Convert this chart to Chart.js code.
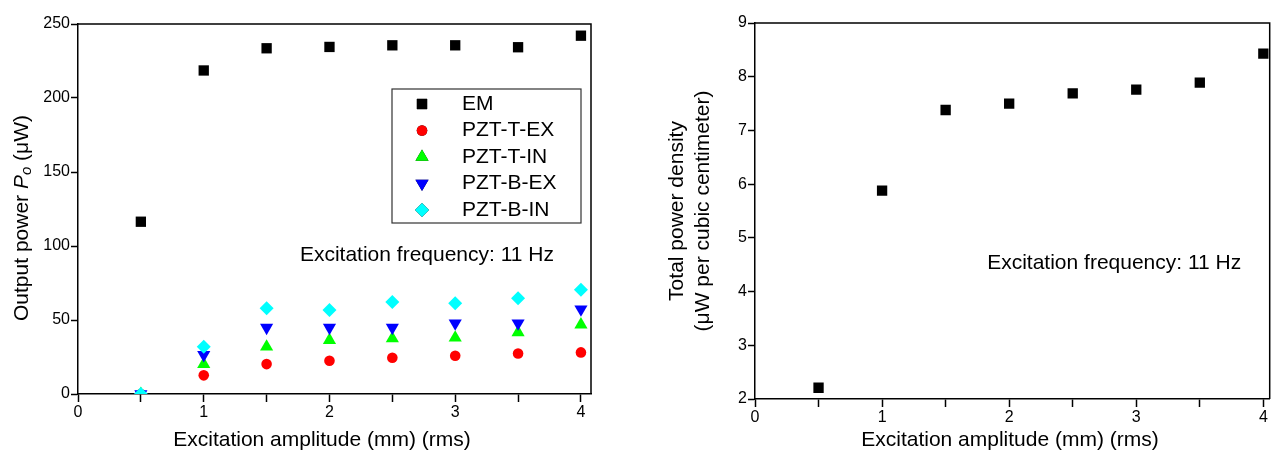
<!DOCTYPE html>
<html>
<head>
<meta charset="utf-8">
<script src="https://cdn.jsdelivr.net/npm/chart.js@4/dist/chart.umd.min.js"></script>
<style>
  body { margin: 0; background: #fff; }
  .box { position: absolute; top: 0; }
</style>
</head>
<body>
<div class="box" style="left:0"><canvas id="left" width="640" height="453"></canvas></div>
<div class="box" style="left:640px"><canvas id="right" width="637" height="453"></canvas></div>
<script>
// valores
const amplitudes = [0.5, 1, 1.5, 2, 2.5, 3, 3.5, 4];
const emPower    = [116.4, 218.6, 233.6, 234.5, 235.6, 235.6, 234.3, 242.1];
const pztTEx     = [0, 12.6, 20.2, 22.5, 24.5, 25.8, 27.4, 28.1];
const pztTIn     = [0, 20.2, 31.9, 36.4, 37.5, 38.0, 41.6, 46.9];
const pztBEx     = [0, 26.5, 44.9, 44.9, 44.9, 47.8, 47.8, 57.3];
const pztBIn     = [0, 31.9, 58.0, 56.8, 62.2, 61.3, 64.7, 70.5];
const densityValues = [2.21, 5.88, 7.38, 7.50, 7.69, 7.76, 7.89, 8.43];

const seriesNames = ['EM', 'PZT-T-EX', 'PZT-T-IN', 'PZT-B-EX', 'PZT-B-IN'];
const xTitle = 'Excitation amplitude (mm) (rms)';
const noteText = 'Excitation frequency: 11 Hz';

const FONT = '"Liberation Sans", Arial, sans-serif';

const toPoints = vals => amplitudes.map((a, i) => ({ x: a, y: vals[i] }));

// moldura, textos e legenda desenhados à mão
const extras = {
  id: 'extras',
  afterDatasetsDraw(chart, args, opts) {
    const ctx = chart.ctx, a = chart.chartArea;
    ctx.save();
    ctx.strokeStyle = '#000';
    ctx.lineWidth = 1.5;
    ctx.beginPath();
    ctx.moveTo(a.left, a.top);
    ctx.lineTo(a.right, a.top);
    ctx.lineTo(a.right, a.bottom);
    ctx.stroke();

    ctx.fillStyle = '#000';
    ctx.textBaseline = 'middle';

    // nota da frequência
    if (opts.note) {
      ctx.font = '21px ' + FONT;
      ctx.textAlign = 'left';
      ctx.fillText(opts.note.text,
        chart.scales.x.getPixelForValue(opts.note.x),
        chart.scales.y.getPixelForValue(opts.note.y));
    }

    // título do eixo x
    ctx.font = '21px ' + FONT;
    ctx.textAlign = 'center';
    ctx.fillText(xTitle, opts.xTitleX, 440);

    // título do eixo y (partes com estilos diferentes)
    opts.yTitle.forEach(line => {
      ctx.save();
      ctx.translate(line.x, line.y);
      ctx.rotate(-Math.PI / 2);
      ctx.textAlign = 'left';
      let total = 0;
      line.parts.forEach(p => {
        ctx.font = (p.italic ? 'italic ' : '') + (p.sub ? 15 : 21) + 'px ' + FONT;
        p.w = ctx.measureText(p.t).width;
        total += p.w;
      });
      let x = -total / 2;
      line.parts.forEach(p => {
        ctx.font = (p.italic ? 'italic ' : '') + (p.sub ? 15 : 21) + 'px ' + FONT;
        ctx.fillText(p.t, x, p.sub ? 5 : 0);
        x += p.w;
      });
      ctx.restore();
    });

    // legenda
    if (opts.legend) {
      const L = opts.legend;
      ctx.strokeStyle = '#333';
      ctx.lineWidth = 1.2;
      ctx.strokeRect(L.x, L.y, L.w, L.h);
      ctx.font = '21px ' + FONT;
      ctx.textAlign = 'left';
      chart.data.datasets.forEach((ds, i) => {
        const cy = L.y + 15 + i * 26.5;
        Chart.helpers.drawPoint(ctx, {
          pointStyle: ds.pointStyle,
          radius: ds.pointRadius,
          rotation: ds.rotation || 0,
          borderWidth: 0
        }, L.x + 30, cy);
        ctx.fillStyle = ds.backgroundColor;
        ctx.fill();
        ctx.fillStyle = '#000';
        ctx.fillText(ds.label, L.x + 70, cy);
      });
    }
    ctx.restore();
  }
};

function axisX(max) {
  return {
    type: 'linear',
    min: 0,
    max: max,
    afterFit: s => { s.height = 453 - (max > 4.06 ? 394 : 399); },
    border: { display: true, color: '#000', width: 1.5 },
    grid: { drawOnChartArea: false, drawTicks: true, tickLength: 8, tickColor: '#000', tickWidth: 1.5 },
    ticks: {
      stepSize: 0.5,
      includeBounds: false,
      padding: 1,
      color: '#000',
      font: { family: FONT, size: 16 },
      maxRotation: 0,
      autoSkip: false,
      callback: v => Number.isInteger(v) ? v : ''
    }
  };
}

function axisY(min, max, step, width) {
  return {
    type: 'linear',
    min: min,
    max: max,
    afterFit: s => { s.width = width; },
    border: { display: true, color: '#000', width: 1.5 },
    grid: { drawOnChartArea: false, drawTicks: true, tickLength: 7, tickColor: '#000', tickWidth: 1.5 },
    ticks: {
      stepSize: step,
      padding: 1,
      color: '#000',
      font: { family: FONT, size: 16 }
    }
  };
}

function scatterSet(label, vals, color, style, radius, rotation, order) {
  return {
    label: label,
    data: toPoints(vals),
    backgroundColor: color,
    borderColor: color,
    borderWidth: 0,
    pointStyle: style,
    pointRadius: radius,
    rotation: rotation,
    order: order
  };
}

new Chart(document.getElementById('left'), {
  type: 'scatter',
  data: {
    datasets: [
      scatterSet(seriesNames[0], emPower, '#000000', 'rect', 7.3, 0, 5),
      scatterSet(seriesNames[1], pztTEx, '#ff0000', 'circle', 5.3, 0, 4),
      scatterSet(seriesNames[2], pztTIn, '#00ff00', 'triangle', 7.6, 0, 3),
      scatterSet(seriesNames[3], pztBEx, '#0000ff', 'triangle', 7.6, 180, 2),
      scatterSet(seriesNames[4], pztBIn, '#00ffff', 'rectRot', 7, 0, 1)
    ]
  },
  options: {
    responsive: false,
    animation: false,
    layout: { padding: { top: 24, right: 49, left: 0, bottom: 0 } },
    scales: {
      x: axisX(4.08),
      y: axisY(0, 250, 50, 78)
    },
    plugins: {
      legend: { display: false },
      tooltip: { enabled: false },
      extras: {
        note: { text: noteText, x: 1.765, y: 93.9 },
        xTitleX: 322,
        yTitle: [{
          x: 22, y: 218,
          parts: [
            { t: 'Output power ' },
            { t: 'P', italic: true },
            { t: 'o', italic: true, sub: true },
            { t: ' (μW)' }
          ]
        }],
        legend: { x: 392, y: 89, w: 189, h: 134 }
      }
    }
  },
  plugins: [extras]
});

new Chart(document.getElementById('right'), {
  type: 'scatter',
  data: {
    datasets: [
      scatterSet('Total power density', densityValues, '#000000', 'rect', 7.3, 0, 1)
    ]
  },
  options: {
    responsive: false,
    animation: false,
    layout: { padding: { top: 23, right: 6, left: 0, bottom: 0 } },
    scales: {
      x: axisX(4.05),
      y: axisY(2, 9, 1, 115)
    },
    plugins: {
      legend: { display: false },
      tooltip: { enabled: false },
      extras: {
        note: { text: noteText, x: 1.827, y: 4.53 },
        xTitleX: 370,
        yTitle: [
          { x: 37, y: 211, parts: [{ t: 'Total power density' }] },
          { x: 63, y: 211, parts: [{ t: '(μW per cubic centimeter)' }] }
        ]
      }
    }
  },
  plugins: [extras]
});
</script>
</body>
</html>
